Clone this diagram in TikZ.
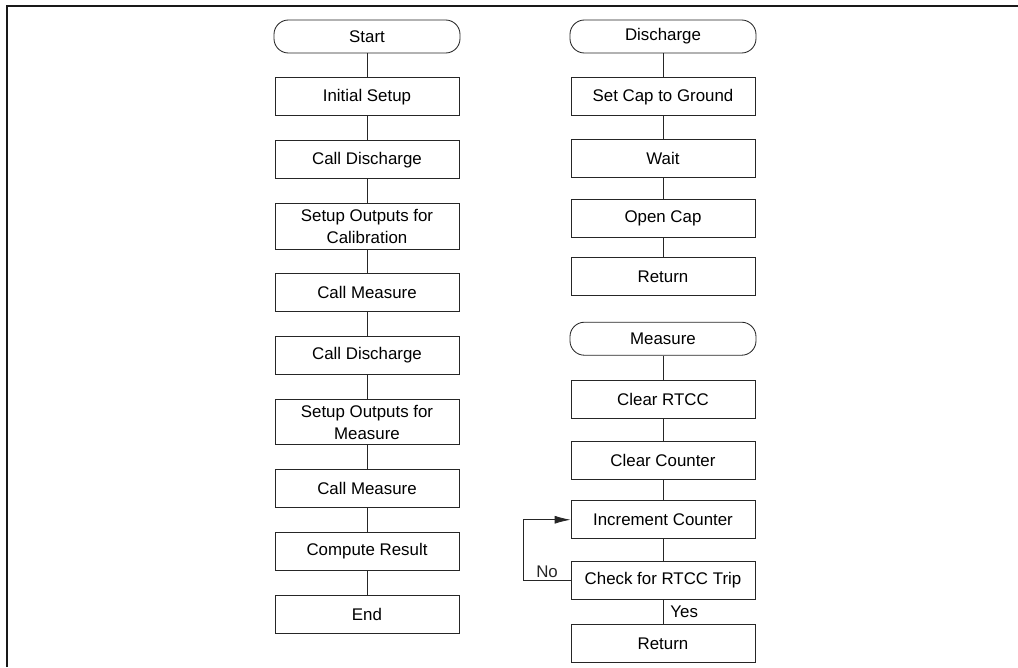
\documentclass[tikz,border=0pt]{standalone}
\usepackage{fontspec}
\setmainfont{Liberation Sans}
\usepackage{tikz}
\usetikzlibrary{arrows.meta, positioning}

\begin{document}
\begin{tikzpicture}[
    node distance=0.6cm,
    font=\fontsize{12}{15.5}\selectfont,
    proc/.style={draw=black!85, line width=0.6pt, align=center, inner sep=4pt, minimum width=4.6cm, minimum height=0.95cm},
    term/.style={draw=black!85, line width=0.6pt, rounded corners=0.36cm, minimum width=4.65cm, minimum height=0.825cm},
    link/.style={draw=black!85, line width=0.6pt},
    loopArr/.style={-{Latex[length=4mm, width=2mm]}, black!85, line width=0.6pt}]
  \useasboundingbox (0,0) rectangle (25.45,-16.675);
  % frame, open at the bottom and right
  \draw[black!90, line width=1.2pt] (0.175,-16.675) -- (0.175,-0.15) -- (25.45,-0.15);
  % main routine
  \node[term] (start) at (9.175,-0.9125) {Start};
  \node[proc, below=of start] (init) {Initial Setup};
  \node[proc, below=of init] (callDis) {Call Discharge};
  \node[proc, below=of callDis] (setCal) {Setup Outputs for\\Calibration};
  \node[proc, below=of setCal] (callMeas) {Call Measure};
  \node[proc, below=of callMeas] (callDisB) {Call Discharge};
  \node[proc, below=of callDisB] (setMeas) {Setup Outputs for\\Measure};
  \node[proc, below=of setMeas] (callMeasB) {Call Measure};
  \node[proc, below=of callMeasB] (compute) {Compute Result};
  \node[proc, below=of compute] (finish) {End};
  \draw[link] (start) -- (init);
  \draw[link] (init) -- (callDis);
  \draw[link] (callDis) -- (setCal);
  \draw[link] (setCal) -- (callMeas);
  \draw[link] (callMeas) -- (callDisB);
  \draw[link] (callDisB) -- (setMeas);
  \draw[link] (setMeas) -- (callMeasB);
  \draw[link] (callMeasB) -- (compute);
  \draw[link] (compute) -- (finish);
  % discharge subroutine
  \node[term] (dis) at (16.575,-0.9125) {Discharge};
  \node[proc, below=0.6cm of dis] (capGnd) {Set Cap to Ground};
  \node[proc, below=0.575cm of capGnd] (wait) {Wait};
  \node[proc, below=0.525cm of wait] (openCap) {Open Cap};
  \node[proc, below=0.475cm of openCap] (retDis) {Return};
  \draw[link] (dis) -- (capGnd);
  \draw[link] (capGnd) -- (wait);
  \draw[link] (wait) -- (openCap);
  \draw[link] (openCap) -- (retDis);
  % measure subroutine
  \node[term, below=0.65cm of retDis] (meas) {Measure};
  \node[proc, below=0.6cm of meas] (clrRtcc) {Clear RTCC};
  \node[proc, below=0.575cm of clrRtcc] (clrCnt) {Clear Counter};
  \node[proc, below=0.5cm of clrCnt] (incCnt) {Increment Counter};
  \node[proc, below=0.55cm of incCnt] (chkTrip) {Check for RTCC Trip};
  \node[proc, below=0.6cm of chkTrip] (retMeas) {Return};
  \draw[link] (meas) -- (clrRtcc);
  \draw[link] (clrRtcc) -- (clrCnt);
  \draw[link] (clrCnt) -- (incCnt);
  \draw[link] (incCnt) -- (chkTrip);
  \draw[loopArr] (chkTrip.west) -- ++(-1.175,0) node[midway, above, inner sep=2pt] {No} |- (incCnt.west);
  \draw[link] (chkTrip) -- node[right, inner sep=5pt] {Yes} (retMeas);
\end{tikzpicture}
\end{document}
